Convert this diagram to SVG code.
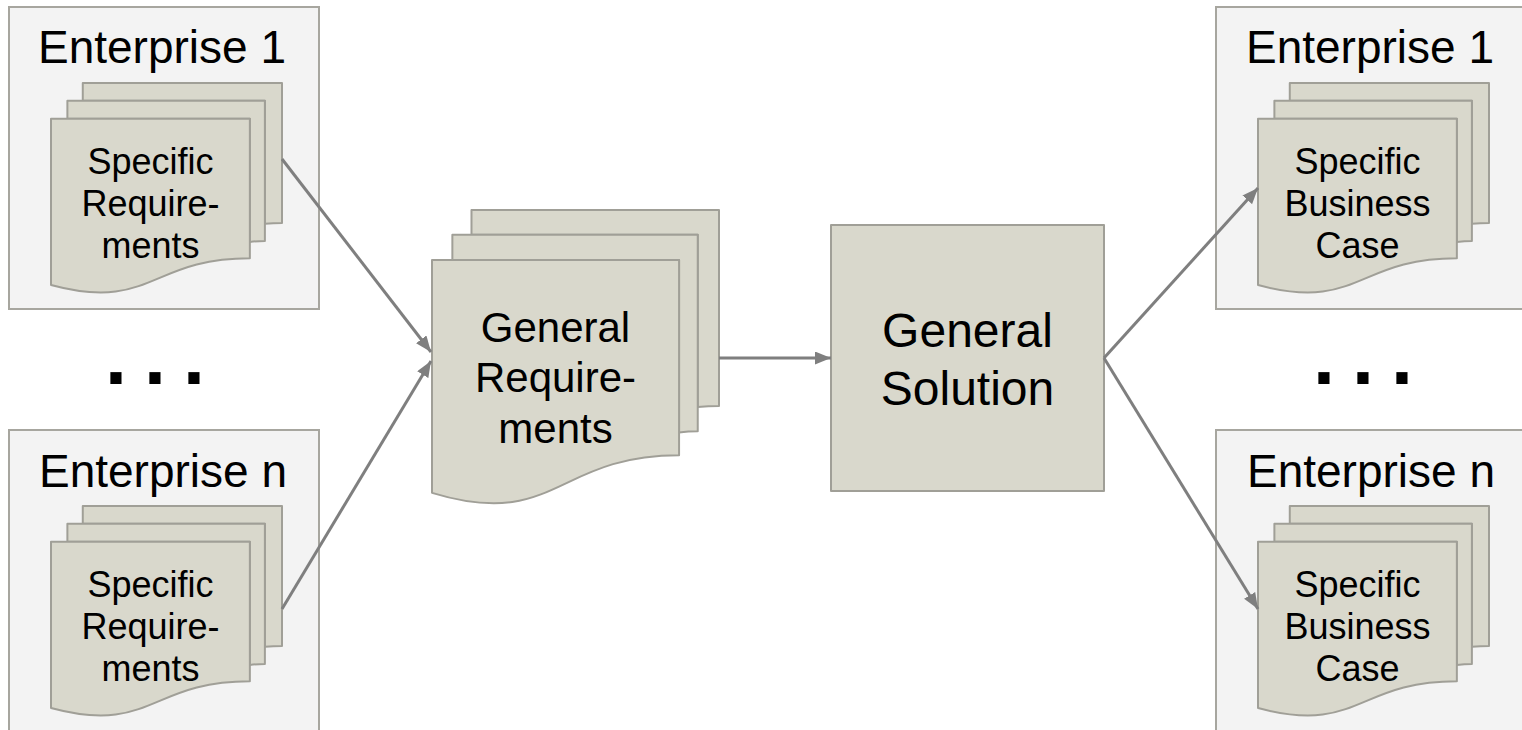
<svg xmlns="http://www.w3.org/2000/svg" xmlns:xlink="http://www.w3.org/1999/xlink" width="1522" height="730" viewBox="0 0 1522 730">
  <style>
    .ent { fill: #f3f3f3; stroke: #a7a69f; stroke-width: 2; }
    .doc { fill: #d9d8cc; stroke: #a09f97; stroke-width: 2; stroke-linejoin: round; }
    .lbl { font-family: "Liberation Sans", Arial, sans-serif; fill: #000; text-anchor: middle; }
    .title { font-size: 46px; }
    .small { font-size: 36px; }
    .mid { font-size: 42px; }
    .big { font-size: 48px; }
    .dots { font-family: "Liberation Sans", Arial, sans-serif; font-weight: bold; font-size: 79px; fill: #000; }
    .edge { fill: none; stroke: #7f7f7f; stroke-width: 3; }
  </style>
  <defs>
    <marker id="arrow" markerUnits="userSpaceOnUse" markerWidth="17" markerHeight="14" refX="16" refY="6.5" orient="auto">
      <path d="M0,0 L16,6.5 L0,13 Z" fill="#7f7f7f"/>
    </marker>
    <!-- stacked multi-document shape, 231 x 210 -->
    <g id="multidoc">
      <path class="doc" d="M31.78,17.65 L31.78,0 L231,0 L231,139.92 C222.44,139.92 213.89,140.65 213.89,140.65 L213.89,17.65 Z"/>
      <path class="doc" d="M16.38,35.73 L16.38,17.65 L213.89,17.65 L213.89,158.01 C206.38,158.01 198.86,158.98 198.86,158.98 L198.86,35.73 Z"/>
      <path class="doc" d="M0,202.05 C99.44,228.88 99.44,175.21 198.86,175.21 L198.86,35.73 L0,35.73 Z"/>
    </g>
  </defs>

  <rect width="1522" height="730" fill="#ffffff"/>

  <!-- left column: enterprises with specific requirements -->
  <g id="enterprise-1-req">
    <rect class="ent" x="9" y="7" width="310" height="302"/>
    <text class="lbl title" x="162" y="63">Enterprise 1</text>
    <use xlink:href="#multidoc" href="#multidoc" transform="translate(51,83)"/>
    <text class="lbl small" x="150.5" y="174">Specific</text>
    <text class="lbl small" x="150.5" y="216">Require-</text>
    <text class="lbl small" x="150.5" y="258">ments</text>
  </g>

  <g id="dots-left">
    <text class="dots" x="105" y="384" letter-spacing="17">...</text>
  </g>

  <g id="enterprise-n-req">
    <rect class="ent" x="9" y="430" width="310" height="302"/>
    <text class="lbl title" x="163" y="487">Enterprise n</text>
    <use xlink:href="#multidoc" href="#multidoc" transform="translate(51,506)"/>
    <text class="lbl small" x="150.5" y="597">Specific</text>
    <text class="lbl small" x="150.5" y="639">Require-</text>
    <text class="lbl small" x="150.5" y="681">ments</text>
  </g>

  <!-- general requirements (large stacked documents) -->
  <g id="general-requirements">
    <g transform="translate(432,210)">
      <path class="doc" d="M39.49,24.70 L39.49,0 L287,0 L287,195.89 C276.37,195.89 265.74,196.91 265.74,196.91 L265.74,24.70 Z"/>
      <path class="doc" d="M20.36,50.02 L20.36,24.70 L265.74,24.70 L265.74,221.21 C256.41,221.21 247.07,222.57 247.07,222.57 L247.07,50.02 Z"/>
      <path class="doc" d="M0,282.87 C123.54,320.43 123.54,245.30 247.07,245.30 L247.07,50.02 L0,50.02 Z"/>
    </g>
    <text class="lbl mid" x="555.5" y="342">General</text>
    <text class="lbl mid" x="555.5" y="392">Require-</text>
    <text class="lbl mid" x="555.5" y="443">ments</text>
  </g>

  <!-- general solution -->
  <g id="general-solution">
    <rect class="doc" x="831" y="225" width="273" height="266"/>
    <text class="lbl big" x="967.5" y="347">General</text>
    <text class="lbl big" x="967.5" y="405">Solution</text>
  </g>

  <!-- right column: enterprises with specific business cases -->
  <g id="enterprise-1-case">
    <rect class="ent" x="1216" y="7" width="310" height="302"/>
    <text class="lbl title" x="1370" y="63">Enterprise 1</text>
    <use xlink:href="#multidoc" href="#multidoc" transform="translate(1258,83)"/>
    <text class="lbl small" x="1357.5" y="174">Specific</text>
    <text class="lbl small" x="1357.5" y="216">Business</text>
    <text class="lbl small" x="1357.5" y="258">Case</text>
  </g>

  <g id="dots-right">
    <text class="dots" x="1313" y="384" letter-spacing="17">...</text>
  </g>

  <g id="enterprise-n-case">
    <rect class="ent" x="1216" y="430" width="310" height="302"/>
    <text class="lbl title" x="1371" y="487">Enterprise n</text>
    <use xlink:href="#multidoc" href="#multidoc" transform="translate(1258,506)"/>
    <text class="lbl small" x="1357.5" y="597">Specific</text>
    <text class="lbl small" x="1357.5" y="639">Business</text>
    <text class="lbl small" x="1357.5" y="681">Case</text>
  </g>

  <!-- connectors, drawn over the enterprise panels -->
  <g id="connectors">
    <line class="edge" x1="282" y1="159" x2="431" y2="352" marker-end="url(#arrow)"/>
    <line class="edge" x1="282" y1="609" x2="431" y2="361" marker-end="url(#arrow)"/>
    <line class="edge" x1="719" y1="358" x2="831" y2="358" marker-end="url(#arrow)"/>
    <line class="edge" x1="1104" y1="358" x2="1258" y2="188" marker-end="url(#arrow)"/>
    <line class="edge" x1="1104" y1="358" x2="1258" y2="609" marker-end="url(#arrow)"/>
  </g>
</svg>
